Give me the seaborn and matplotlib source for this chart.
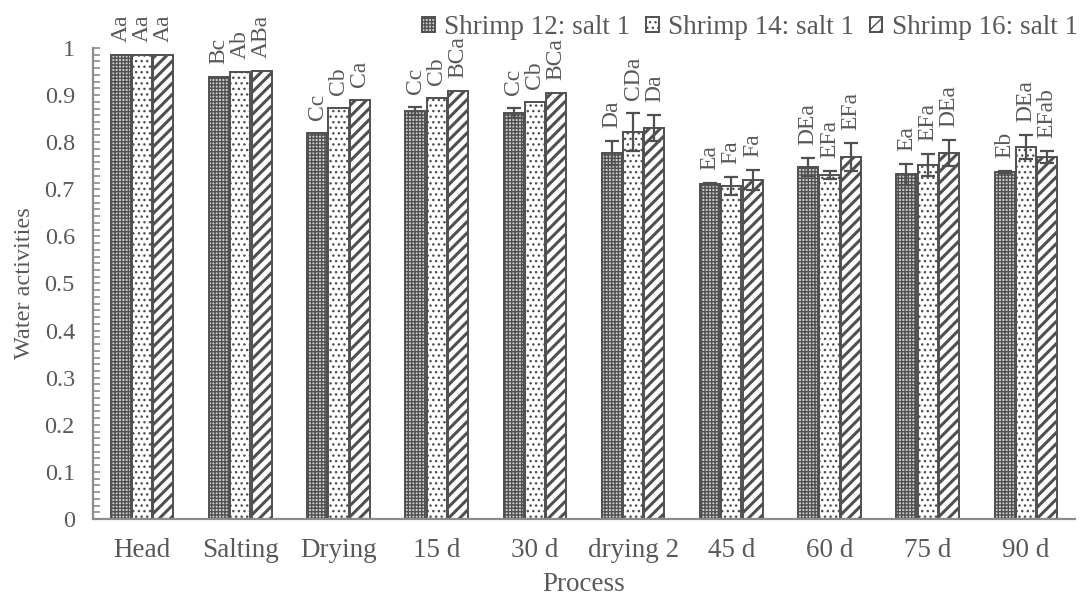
import matplotlib
matplotlib.use("Agg")
import matplotlib.pyplot as plt
from matplotlib.ticker import MultipleLocator, FuncFormatter
import seaborn as sns
import pandas as pd

# ---------------- data ----------------
processes = ["Head", "Salting", "Drying", "15 d", "30 d", "drying 2", "45 d", "60 d", "75 d", "90 d"]
series_names = ["Shrimp 12: salt 1", "Shrimp 14: salt 1", "Shrimp 16: salt 1"]

s12 = [0.985, 0.938, 0.820, 0.866, 0.862, 0.777, 0.712, 0.747, 0.732, 0.736]
s14 = [0.985, 0.949, 0.873, 0.894, 0.885, 0.822, 0.707, 0.730, 0.752, 0.790]
s16 = [0.985, 0.951, 0.890, 0.908, 0.904, 0.830, 0.719, 0.768, 0.777, 0.768]

e12 = [0.0, 0.0, 0.0, 0.009, 0.010, 0.026, 0.002, 0.019, 0.022, 0.002]
e14 = [0.0, 0.0, 0.0, 0.0, 0.0, 0.040, 0.019, 0.009, 0.023, 0.025]
e16 = [0.0, 0.0, 0.0, 0.0, 0.0, 0.028, 0.021, 0.030, 0.028, 0.013]

lab12 = ["Aa", "Bc", "Cc", "Cc", "Cc", "Da", "Ea", "DEa", "Ea", "Eb"]
lab14 = ["Aa", "Ab", "Cb", "Cb", "Cb", "CDa", "Fa", "EFa", "EFa", "DEa"]
lab16 = ["Aa", "ABa", "Ca", "BCa", "BCa", "Da", "Fa", "EFa", "DEa", "EFab"]

values = [s12, s14, s16]
errors = [e12, e14, e16]
labels = [lab12, lab14, lab16]

df = pd.DataFrame({
    "Process": processes * 3,
    "Series": [n for n in series_names for _ in processes],
    "Value": s12 + s14 + s16,
})

# ---------------- style ----------------
sns.set_style("white")
plt.rcParams["font.family"] = ["Liberation Serif", "DejaVu Serif"]
TXT = "#595959"
EDGE = "#505050"
AX = "#8c8c8c"

fig = plt.figure(figsize=(10.87, 6.01), dpi=100)
ax = fig.add_axes([93 / 1087, 1 - 519 / 601, (1075 - 93) / 1087, (519 - 48) / 601])

sns.barplot(data=df, x="Process", y="Value", hue="Series", order=processes,
            hue_order=series_names, palette=["white", "white", "white"],
            width=0.65, gap=0.06, errorbar=None, edgecolor=EDGE, linewidth=1.4,
            legend=False, ax=ax)

bar_conts = list(ax.containers)

faces = ["#cfcfcf", "white", "white"]
hatches = ["+++++", "...", "///"]
hlw = [1.0, 1.0, 2.2]
for i, cont in enumerate(bar_conts):
    for j, bar in enumerate(cont):
        bar.set_facecolor(faces[i])
        bar.set_hatch(hatches[i])
        bar.set_edgecolor(EDGE)
        if hasattr(bar, "set_hatch_linewidth"):
            bar.set_hatch_linewidth(hlw[i])
        x = bar.get_x() + bar.get_width() / 2
        h = bar.get_height()
        err = errors[i][j]
        if err > 0:
            ax.errorbar([x], [h], yerr=[err], fmt="none", ecolor=EDGE,
                        elinewidth=1.6, capsize=5, capthick=1.6, zorder=5)
        ax.annotate(labels[i][j], (x, h + err), xytext=(0, 9.5),
                    textcoords="offset points", rotation=90, ha="center",
                    va="bottom", fontsize=17, color=TXT, annotation_clip=False)

# ---------------- axes ----------------
ax.set_ylim(0, 1)
ax.set_xlim(-0.5, len(processes) - 0.5)
ax.yaxis.set_major_locator(MultipleLocator(0.1))
ax.yaxis.set_minor_locator(MultipleLocator(0.1 / 7))
ax.yaxis.set_major_formatter(FuncFormatter(lambda v, p: f"{v:g}"))
ax.tick_params(axis="y", which="both", direction="in", length=5, width=1.2,
               color=AX, labelsize=17.5, labelcolor=TXT, pad=13, left=True)
ax.tick_params(axis="x", length=0, labelsize=19.5, labelcolor=TXT, pad=14)

for s in ["top", "right"]:
    ax.spines[s].set_visible(False)
for s in ["left", "bottom"]:
    ax.spines[s].set_color(AX)
    ax.spines[s].set_linewidth(1.6)

ax.set_xlabel("Process", fontsize=19.5, color=TXT, labelpad=6)
ax.set_ylabel("Water activities", fontsize=17.5, color=TXT, labelpad=7)

leg = ax.legend(bar_conts, series_names, loc="upper right",
                bbox_to_anchor=(1.003, 1.07), ncol=3, frameon=False,
                fontsize=19.5, handlelength=0.45, handleheight=0.45,
                handletextpad=0.35, columnspacing=0.6, borderaxespad=0,
                borderpad=0)
for t in leg.get_texts():
    t.set_color(TXT)

fig.savefig("out.png", dpi=100)
